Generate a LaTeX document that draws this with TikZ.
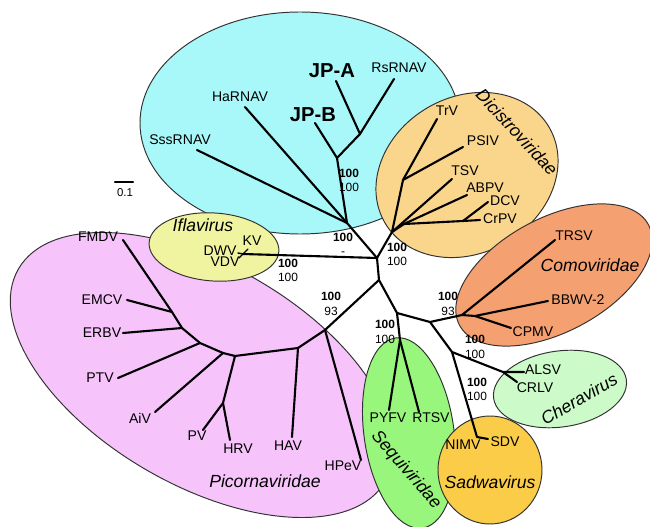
\documentclass[tikz,border=0pt]{standalone}
\usepackage{fontspec}
\setmainfont{Liberation Sans}
\definecolor{cyanc}{RGB}{168,248,250}
\definecolor{dicic}{RGB}{250,214,140}
\definecolor{picoc}{RGB}{246,196,250}
\definecolor{iflac}{RGB}{240,244,160}
\definecolor{comoc}{RGB}{245,160,112}
\definecolor{cherc}{RGB}{204,250,200}
\definecolor{seqc}{RGB}{152,246,124}
\definecolor{sadc}{RGB}{250,204,72}
\definecolor{edgec}{RGB}{50,50,50}
\tikzset{
  br/.style={line width=1.2pt, line cap=round, line join=round},
  brthin/.style={line width=0.8pt, line cap=round},
  clade/.style={draw=edgec, line width=0.55pt},
  lab/.style={font=\fontsize{8}{9}\selectfont, inner sep=0pt},
  fam/.style={font=\fontsize{10}{11}\selectfont\itshape, inner sep=0pt},
  jp/.style={font=\fontsize{11.5}{13}\selectfont\bfseries, inner sep=0pt},
  bs/.style={font=\fontsize{6.8}{8.3}\selectfont, align=center, inner sep=0pt},
}
\begin{document}
\begin{tikzpicture}[x=0.02cm,y=0.02cm]
\useasboundingbox[fill=white] (0,0) rectangle (650,-527);
% ---- clade ellipses ----
\path[fill=cyanc, clade] (300,-123) ellipse [x radius=160, y radius=111];
\path[fill=dicic, clade, rotate around={30:(467,-175)}] (467,-175) ellipse [x radius=95, y radius=78];
\path[fill=picoc, clade, rotate around={-30:(202,-375)}] (202,-375) ellipse [x radius=212, y radius=110];
\path[fill=iflac, clade, rotate around={-4:(214,-247)}] (214,-247) ellipse [x radius=65, y radius=34];
\path[fill=comoc, clade, rotate around={28:(554,-275)}] (554,-275) ellipse [x radius=107, y radius=57];
\path[fill=cherc, clade, rotate around={8:(560,-389)}] (560,-389) ellipse [x radius=67, y radius=38];
\path[fill=seqc, clade, rotate around={8:(409,-433)}] (409,-433) ellipse [x radius=45, y radius=96];
\path[fill=sadc, clade] (490,-470) ellipse [x radius=52, y radius=54];
% ---- internal nodes ----
\coordinate (A) at (360,-134);
\coordinate (B) at (337,-158);
\coordinate (U) at (347,-223);
\coordinate (C) at (377,-258);
\coordinate (D) at (392,-232);
\coordinate (E) at (379,-280);
\coordinate (I) at (243,-254);
\coordinate (D1) at (403,-180);
\coordinate (D2) at (404,-224);
\coordinate (D3) at (463,-221);
\coordinate (P1) at (325,-330);
\coordinate (P2) at (298,-348);
\coordinate (P3) at (235,-356);
\coordinate (Q) at (223,-403);
\coordinate (P5) at (223,-353);
\coordinate (P6) at (200,-343);
\coordinate (P7) at (182,-328);
\coordinate (P8) at (172,-312);
\coordinate (F) at (397,-313);
\coordinate (S) at (400,-340);
\coordinate (G) at (430,-322);
\coordinate (K) at (462,-315);
\coordinate (K2) at (475,-316);
\coordinate (H) at (452,-352);
\coordinate (CH) at (503,-372);
\coordinate (SD) at (477,-437);
% ---- leaf tips ----
\coordinate (jpat) at (336,-81);
\coordinate (rst) at (394,-79);
\coordinate (jpbt) at (315,-123);
\coordinate (hat) at (245,-107);
\coordinate (sst) at (197,-150);
\coordinate (trvt) at (437,-119);
\coordinate (psivt) at (463,-147);
\coordinate (tsvt) at (452,-179);
\coordinate (abpvt) at (467,-195);
\coordinate (dcvt) at (488,-202);
\coordinate (crpvt) at (480,-220);
\coordinate (kvt) at (248,-249);
\coordinate (dwvt) at (238,-253);
\coordinate (vdvt) at (239,-258);
\coordinate (fmdvt) at (123,-240);
\coordinate (emcvt) at (127,-300);
\coordinate (erbvt) at (123,-333);
\coordinate (ptvt) at (118,-378);
\coordinate (aivt) at (155,-412);
\coordinate (pvt) at (203,-430);
\coordinate (hrvt) at (230,-440);
\coordinate (havt) at (292,-437);
\coordinate (hpevt) at (361,-460);
\coordinate (pyfvt) at (389,-410);
\coordinate (rtsvt) at (419,-412);
\coordinate (trsvt) at (555,-240);
\coordinate (bbwvt) at (548,-301);
\coordinate (cpmvt) at (511,-328);
\coordinate (alsvt) at (524,-372);
\coordinate (crlvt) at (517,-382);
\coordinate (sdvt) at (488,-439);
\coordinate (sb1) at (115,-182);
\coordinate (sb2) at (133,-182);
% ---- branches ----
\draw[br] (jpat) -- (A) -- (rst);
\draw[br] (A) -- (B) -- (jpbt);
\draw[br] (B) -- (U);
\draw[br] (hat) -- (U);
\draw[br] (sst) -- (U);
\draw[br] (U) -- (C);
\draw[br] (C) -- (D);
\draw[br] (C) -- (I);
\draw[br] (C) -- (E);
\draw[brthin] (I) -- (kvt);
\draw[brthin] (I) -- (dwvt);
\draw[brthin] (I) -- (vdvt);
\draw[br] (D) -- (D1) -- (trvt);
\draw[br] (D1) -- (psivt);
\draw[br] (D) -- (tsvt);
\draw[br] (D) -- (D2) -- (abpvt);
\draw[br] (D2) -- (D3) -- (crpvt);
\draw[br] (D3) -- (dcvt);
\draw[br] (E) -- (P1) -- (hpevt);
\draw[br] (P1) -- (P2) -- (havt);
\draw[br] (P2) -- (P3) -- (Q) -- (pvt);
\draw[br] (Q) -- (hrvt);
\draw[br] (P3) -- (P5) -- (aivt);
\draw[br] (P5) -- (P6) -- (ptvt);
\draw[br] (P6) -- (P7) -- (erbvt);
\draw[br] (P7) -- (P8) -- (emcvt);
\draw[br] (P8) -- (fmdvt);
\draw[br] (E) -- (F) -- (S) -- (pyfvt);
\draw[br] (S) -- (rtsvt);
\draw[br] (F) -- (G) -- (K) -- (trsvt);
\draw[br] (K) -- (K2) -- (bbwvt);
\draw[br] (K2) -- (cpmvt);
\draw[br] (G) -- (H) -- (CH) -- (alsvt);
\draw[br] (CH) -- (crlvt);
\draw[br] (H) -- (SD) -- (sdvt);
\draw[br] (sb1) -- (sb2);
% ---- leaf labels ----
\node[lab] (lss) at (180,-140) {SssRNAV};
\node[lab] (lha) at (240,-97) {HaRNAV};
\node[jp] (ljpa) at (332,-71) {JP-A};
\node[jp] (ljpb) at (313,-115) {JP-B};
\node[lab] (lrs) at (399,-68) {RsRNAV};
\node[lab] (ltrv) at (447,-111) {TrV};
\node[lab] (lpsiv) at (483,-141) {PSIV};
\node[lab] (ltsv) at (465,-171) {TSV};
\node[lab] (labpv) at (485,-188) {ABPV};
\node[lab] (ldcv) at (505,-201) {DCV};
\node[lab] (lcrpv) at (500,-219) {CrPV};
\node[lab] (lkv) at (252,-241) {KV};
\node[lab] (ldwv) at (220,-251) {DWV};
\node[lab] (lvdv) at (225,-262) {VDV};
\node[lab] (lfmdv) at (98,-237) {FMDV};
\node[lab] (lemcv) at (102,-300) {EMCV};
\node[lab] (lerbv) at (102,-333) {ERBV};
\node[lab] (lptv) at (100,-378) {PTV};
\node[lab] (laiv) at (140,-418) {AiV};
\node[lab] (lpv) at (197,-436) {PV};
\node[lab] (lhrv) at (238,-449) {HRV};
\node[lab] (lhav) at (288,-446) {HAV};
\node[lab] (lhpev) at (343,-466) {HPeV};
\node[lab] (lpyfv) at (388,-418) {PYFV};
\node[lab] (lrtsv) at (431,-418) {RTSV};
\node[lab] (lnimv) at (463,-445) {NIMV};
\node[lab] (lsdv) at (505,-442) {SDV};
\node[lab] (ltrsv) at (574,-236) {TRSV};
\node[lab] (lbbwv) at (578,-300) {BBWV-2};
\node[lab] (lcpmv) at (533,-332) {CPMV};
\node[lab] (lalsv) at (543,-370) {ALSV};
\node[lab] (lcrlv) at (535,-388) {CRLV};
\node[font=\fontsize{6.5}{7}\selectfont, inner sep=0pt] (lscale) at (125,-193) {0.1};
% ---- clade names ----
\node[fam, rotate=-47] (fdici) at (517,-132) {Dicistroviridae};
\node[fam] (fifla) at (203,-225) {Iflavirus};
\node[fam] (fpico) at (265,-481) {Picornaviridae};
\node[fam] (fcomo) at (590,-265) {Comoviridae};
\node[fam, rotate=30] (fcher) at (579,-399) {Cheravirus};
\node[fam, rotate=-49] (fseq) at (406,-470) {Sequiviridae};
\node[fam] (fsad) at (490,-482) {Sadwavirus};
% ---- bootstrap values ----
\node[bs] (bs1) at (349,-180.5) {\textbf{100}\\100};
\node[bs] (bs2) at (343,-244.5) {\textbf{100}\\-};
\node[bs] (bs3) at (397,-254.5) {\textbf{100}\\100};
\node[bs] (bs4) at (288,-270.5) {\textbf{100}\\100};
\node[bs] (bs5) at (331,-304) {\textbf{100}\\93};
\node[bs] (bs6) at (448,-304) {\textbf{100}\\93};
\node[bs] (bs7) at (385,-332) {\textbf{100}\\100};
\node[bs] (bs8) at (475,-347) {\textbf{100}\\100};
\node[bs] (bs9) at (477,-389.5) {\textbf{100}\\100};
\end{tikzpicture}
\end{document}
